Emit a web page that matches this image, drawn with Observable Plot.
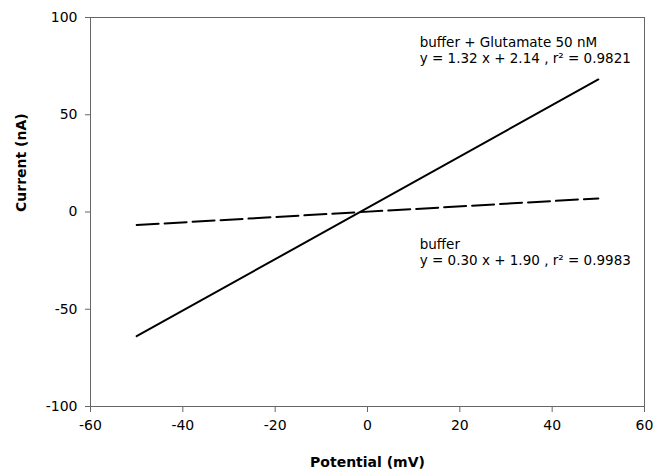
<!DOCTYPE html>
<html>
<head>
<meta charset="utf-8">
<script src="https://cdn.jsdelivr.net/npm/d3@7"></script>
<script src="https://cdn.jsdelivr.net/npm/@observablehq/plot@0.6"></script>
<style>
  body { margin: 0; background: #fff; }
  svg { display: block; }
</style>
</head>
<body>
<div id="chart"></div>
<script>
// Data
const potential = [-50, 50];
const currentGlutamate = [-63.86, 68.14];
const currentBuffer = [-6.7, 7.0];
const xTicks = [-60, -40, -20, 0, 20, 40, 60];
const yTicks = [-100, -50, 0, 50, 100];
const labelGlutamate = ["buffer + Glutamate 50 nM", "y = 1.32 x + 2.14 , r² = 0.9821"];
const labelBuffer = ["buffer", "y = 0.30 x + 1.90 , r² = 0.9983"];

const glut = potential.map((x, i) => ({x, y: currentGlutamate[i]}));
const buf = potential.map((x, i) => ({x, y: currentBuffer[i]}));

const font = "DejaVu Sans, Verdana, sans-serif";

const chart = Plot.plot({
  width: 654,
  height: 475,
  marginLeft: 90,
  marginRight: 10,
  marginTop: 17,
  marginBottom: 69,
  style: {fontFamily: font, fontSize: "13px", color: "#000", background: "#fff"},
  x: {domain: [-60, 60]},
  y: {domain: [-100, 100]},
  marks: [
    Plot.frame({stroke: "#666", strokeWidth: 1}),
    Plot.axisX({ticks: xTicks, tickSize: 6, tickPadding: 8, tickFormat: d => String(d), fontSize: 14, stroke: "#666", label: null}),
    Plot.axisY({ticks: yTicks, tickSize: 5, tickPadding: 8, tickFormat: d => String(d), fontSize: 14, stroke: "#666", label: null}),
    Plot.text(["Potential (mV)"], {frameAnchor: "bottom", dy: 60, fontWeight: "bold", fontSize: 14}),
    Plot.text(["Current (nA)"], {frameAnchor: "left", dx: -69, rotate: -90, fontWeight: "bold", fontSize: 14}),
    Plot.line(buf, {x: "x", y: "y", stroke: "#000", strokeWidth: 2, strokeDasharray: "22,6"}),
    Plot.line(glut, {x: "x", y: "y", stroke: "#000", strokeWidth: 2}),
    Plot.text([labelGlutamate.join("\n")], {x: 11.3, y: 83.5, textAnchor: "start", lineAnchor: "middle", lineHeight: 1.2, fontSize: 13.5}),
    Plot.text([labelBuffer.join("\n")], {x: 11.3, y: -20.5, textAnchor: "start", lineAnchor: "middle", lineHeight: 1.2, fontSize: 13.5})
  ]
});
document.getElementById("chart").appendChild(chart);
</script>
</body>
</html>
